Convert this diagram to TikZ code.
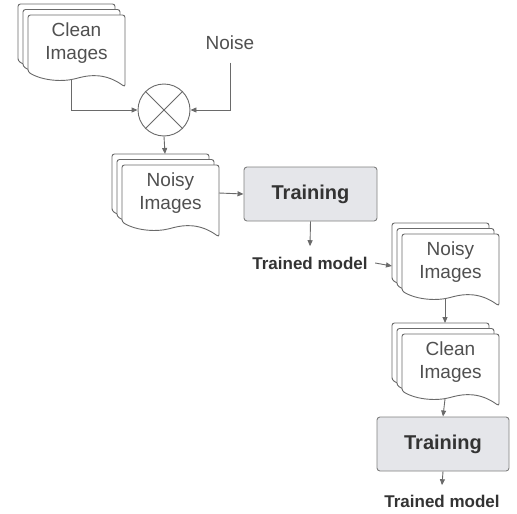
\documentclass[tikz,border=0pt]{standalone}
\usepackage{fontspec}
\setmainfont{Liberation Sans}
\usetikzlibrary{arrows.meta}
\definecolor{ln}{HTML}{6A6A6A}
\definecolor{tx}{HTML}{505050}
\definecolor{trfill}{HTML}{E5E6EA}
\tikzset{
  sheet/.style={draw=ln, fill=white, line width=0.9pt, rounded corners=2.5pt},
  conn/.style={draw=ln, line width=0.9pt, -{Triangle[length=6pt,width=5pt]}},
  doctext/.style={text=tx, align=center, font=\fontsize{19}{23}\selectfont},
  trainbox/.style={draw=ln!85, fill=trfill, rounded corners=3pt, line width=0.9pt,
    minimum width=133pt, minimum height=54pt, inner sep=0pt,
    font=\bfseries\fontsize{20}{24}\selectfont, text=black!80},
  modeltext/.style={font=\bfseries\fontsize{17}{20}\selectfont, text=black!80},
  plaintext/.style={text=tx, font=\fontsize{19}{23}\selectfont},
}
% one sheet of a document shape, front-left corner (#1,#2)
\newcommand\docsheet[2]{%
  \path[sheet] ({#1},{#2+57}) -- ({#1},{#2}) -- ({#1+97},{#2}) -- ({#1+97},{#2+72})
    .. controls ({#1+78},{#2+58}) and ({#1+62},{#2+60}) .. ({#1+50},{#2+63})
    .. controls ({#1+35},{#2+67}) and ({#1+15},{#2+66}) .. ({#1},{#2+57}) -- cycle;}
% stack of three sheets with text; #1 name, #2 L, #3 T (front sheet), #4 text
\newcommand\multidoc[4]{%
  \docsheet{#2-10}{#3-11}
  \docsheet{#2-5}{#3-5.5}
  \docsheet{#2}{#3}
  \node[doctext] (#1) at ({#2+48.5},{#3+28}) {#4};
  \coordinate (#1-bot) at ({#2+43},{#3+65});
  \coordinate (#1-top) at ({#2+43},{#3-11});
  \coordinate (#1-left) at ({#2-10},{#3+32});
  \coordinate (#1-right) at ({#2+97},{#3+28});
}
\begin{document}
\begin{tikzpicture}[x=1pt,y=-1pt]
\useasboundingbox (0,0) rectangle (517,514);

\multidoc{clean1}{28}{15}{Clean\\Images}
\multidoc{noisy1}{122}{165}{Noisy\\Images}
\multidoc{noisy2}{402}{234}{Noisy\\Images}
\multidoc{clean2}{402}{334}{Clean\\Images}

\node[plaintext] (noise) at (230,43) {Noise};
\node[draw=ln, fill=white, circle, minimum size=52pt, inner sep=0pt, line width=0.9pt] (mix) at (164,110) {};
\draw[ln, line width=0.9pt] (mix.north west) -- (mix.south east) (mix.north east) -- (mix.south west);

\node[trainbox] (train1) at (310.5,194) {Training};
\node[modeltext] (model1) at (310,263) {Trained model};
\node[trainbox, minimum width=132pt] (train2) at (443,444) {Training};
\node[modeltext] (model2) at (442,501) {Trained model};

\draw[conn] (clean1-bot) |- (mix.west);
\draw[conn] ([yshift=-9pt]noise.south) |- (mix.east);
\draw[conn] (mix.south) -- (noisy1-top);
\draw[conn] (noisy1-right) -- (train1.west);
\draw[conn] (train1.south) -- ([yshift=7pt]model1.north);
\draw[conn] ([xshift=4pt]model1.east) -- (noisy2-left);
\draw[conn] (noisy2-bot) -- (clean2-top);
\draw[conn] (clean2-bot) -- (train2.north);
\draw[conn] (train2.south) -- ([yshift=6pt]model2.north);
\end{tikzpicture}
\end{document}
